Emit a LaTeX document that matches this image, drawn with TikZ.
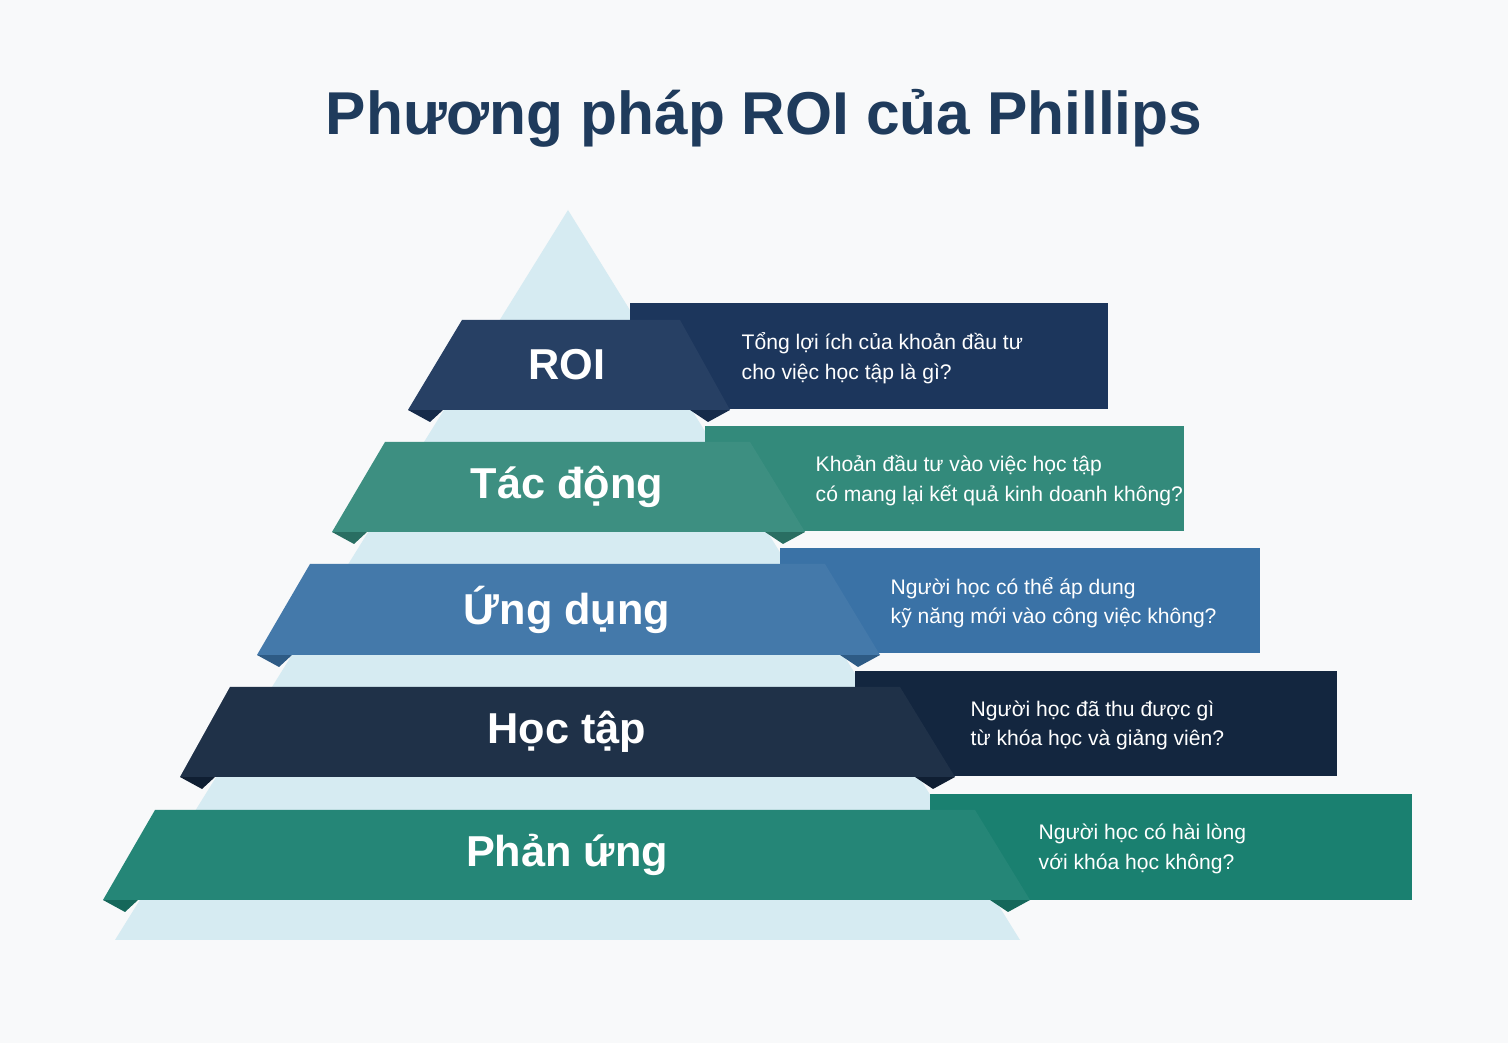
\documentclass[tikz,border=0pt]{standalone}
\usepackage{fontspec}
\setmainfont{Liberation Sans}
\usetikzlibrary{positioning,calc}
\definecolor{bgc}{HTML}{F8F9FA}
\definecolor{pyr}{HTML}{D6EBF2}
\definecolor{titlec}{HTML}{1F3B5C}
\definecolor{cRoi}{HTML}{1C365C}
\definecolor{cTac}{HTML}{338A7B}
\definecolor{cUng}{HTML}{3A72A6}
\definecolor{cHoc}{HTML}{13263F}
\definecolor{cPhan}{HTML}{1A8070}
\tikzset{
  lbl/.style={font=\fontsize{12.3}{15}\selectfont\bfseries, text=white},
  ask/.style={font=\fontsize{6}{8.4}\selectfont, text=white, align=left, anchor=west, inner sep=0pt},
}
\begin{document}
\begin{tikzpicture}[x=0.01cm,y=-0.01cm]
		
		\fill[bgc] (0,0) rectangle (1508,1043);
		\useasboundingbox (0,0) rectangle (1508,1043);
		
		\node[font=\fontsize{17.2}{21}\selectfont\bfseries, text=titlec] (title) at (764,118) {Phương pháp ROI của Phillips};
		
		% background pyramid
		\fill[pyr] (568,210) -- (1020,940) -- (115,940) -- cycle;
		
		% y top, y bottom, left top, left bottom, right top, right bottom, panel left, panel right, panel top, panel bottom, colour, name, label, text x, question
		\foreach \yt/\yb/\lt/\lb/\rt/\rb/\pl/\pr/\pt/\pb/\col/\nm/\lab/\tx/\q in {
			320/410/462/408/680/730/630/1108/303/409/cRoi/roi/ROI/741/{Tổng lợi ích của khoản đầu tư\\cho việc học tập là gì?},
			442/532/385/332/750/805/705/1184/426/531/cTac/tac/Tác động/815/{Khoản đầu tư vào việc học tập\\có mang lại kết quả kinh doanh không?},
			564/655/310/257/825/880/780/1260/548/653/cUng/ung/Ứng dụng/890/{Người học có thể áp dung\\kỹ năng mới vào công việc không?},
			687/777/230/180/900/955/855/1337/671/776/cHoc/hoc/Học tập/970/{Người học đã thu được gì\\từ khóa học và giảng viên?},
			810/900/155/103/975/1030/930/1412/794/900/cPhan/phan/Phản ứng/1038/{Người học có hài lòng\\với khóa học không?}}{
			\fill[\col] (\pl,\pt) rectangle (\pr,\pb);
			\fill[\col!80!black] (\lb,\yb) -- (\lb+35,\yb) -- (\lb+22,\yb+12) -- cycle;
			\fill[\col!80!black] (\rb-40,\yb) -- (\rb,\yb) -- (\rb-22,\yb+12) -- cycle;
			\fill[\col] (\lt,\yt) -- (\rt,\yt) -- (\rb,\yb) -- (\lb,\yb) -- cycle;
			\fill[white, opacity=0.05] (\lt,\yt) -- (\rt,\yt) -- (\rb,\yb) -- (\lb,\yb) -- cycle;
			\node[lbl] (\nm-lbl) at (567,{(\yt+\yb)/2}) {\lab};
			\node[ask] (\nm-ask) at (\tx,{(\pt+\pb)/2+2}) {\q};
		}
		
\end{tikzpicture}
\end{document}
